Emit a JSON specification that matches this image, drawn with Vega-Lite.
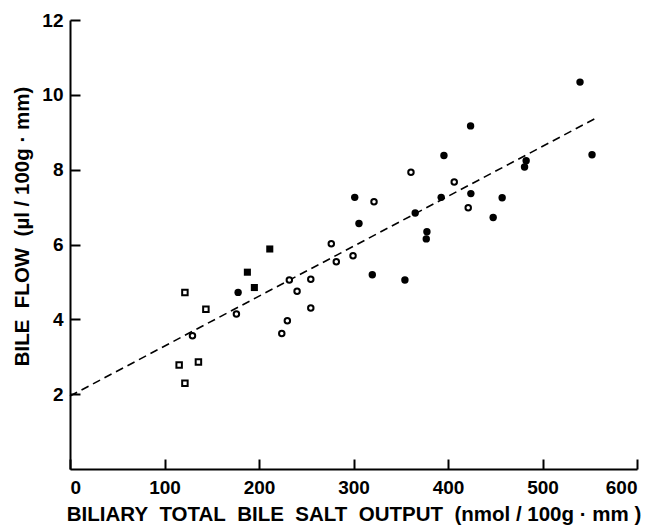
{
  "$schema": "https://vega.github.io/schema/vega-lite/v6.json",
  "width": 567,
  "height": 449,
  "autosize": {"type": "none"},
  "padding": {"left": 70, "top": 20, "right": 20, "bottom": 58},
  "background": "white",
  "config": {
    "view": {"stroke": null},
    "axis": {
      "grid": false,
      "domainColor": "black",
      "domainWidth": 2,
      "tickColor": "black",
      "tickWidth": 2,
      "tickSize": -10,
      "labelColor": "black",
      "titleColor": "black",
      "labelFont": "Liberation Sans",
      "titleFont": "Liberation Sans",
      "labelFontSize": 19,
      "titleFontSize": 20.5,
      "labelFontWeight": "bold",
      "titleFontWeight": "bold"
    }
  },
  "datasets": {
    "points": [
      {"x": 121.6, "y": 4.72, "group": "open square"},
      {"x": 143.8, "y": 4.27, "group": "open square"},
      {"x": 115.5, "y": 2.78, "group": "open square"},
      {"x": 135.9, "y": 2.86, "group": "open square"},
      {"x": 121.6, "y": 2.29, "group": "open square"},
      {"x": 187.7, "y": 5.26, "group": "filled square"},
      {"x": 195.1, "y": 4.85, "group": "filled square"},
      {"x": 211.4, "y": 5.88, "group": "filled square"},
      {"x": 129.6, "y": 3.56, "group": "open circle"},
      {"x": 176.1, "y": 4.14, "group": "open circle"},
      {"x": 224.1, "y": 3.62, "group": "open circle"},
      {"x": 230.0, "y": 3.96, "group": "open circle"},
      {"x": 232.1, "y": 5.05, "group": "open circle"},
      {"x": 240.3, "y": 4.75, "group": "open circle"},
      {"x": 254.8, "y": 5.07, "group": "open circle"},
      {"x": 254.8, "y": 4.30, "group": "open circle"},
      {"x": 276.5, "y": 6.02, "group": "open circle"},
      {"x": 281.8, "y": 5.54, "group": "open circle"},
      {"x": 299.5, "y": 5.70, "group": "open circle"},
      {"x": 321.7, "y": 7.14, "group": "open circle"},
      {"x": 360.8, "y": 7.93, "group": "open circle"},
      {"x": 406.6, "y": 7.67, "group": "open circle"},
      {"x": 421.4, "y": 6.98, "group": "open circle"},
      {"x": 177.9, "y": 4.72, "group": "filled circle"},
      {"x": 301.3, "y": 7.26, "group": "filled circle"},
      {"x": 305.8, "y": 6.56, "group": "filled circle"},
      {"x": 319.9, "y": 5.19, "group": "filled circle"},
      {"x": 354.4, "y": 5.05, "group": "filled circle"},
      {"x": 365.3, "y": 6.84, "group": "filled circle"},
      {"x": 377.7, "y": 6.34, "group": "filled circle"},
      {"x": 377.0, "y": 6.15, "group": "filled circle"},
      {"x": 395.7, "y": 8.38, "group": "filled circle"},
      {"x": 392.8, "y": 7.26, "group": "filled circle"},
      {"x": 424.2, "y": 7.36, "group": "filled circle"},
      {"x": 447.8, "y": 6.72, "group": "filled circle"},
      {"x": 457.3, "y": 7.25, "group": "filled circle"},
      {"x": 539.7, "y": 10.34, "group": "filled circle"},
      {"x": 423.9, "y": 9.17, "group": "filled circle"},
      {"x": 552.4, "y": 8.40, "group": "filled circle"},
      {"x": 482.7, "y": 8.24, "group": "filled circle"},
      {"x": 481.0, "y": 8.07, "group": "filled circle"}
    ],
    "fit": [
      {"x": 0, "y": 1.95},
      {"x": 556, "y": 9.37}
    ]
  },
  "encoding": {
    "x": {
      "field": "x",
      "type": "quantitative",
      "scale": {"domain": [0, 600], "nice": false},
      "axis": {
        "values": [0, 100, 200, 300, 400, 500, 600],
        "labelPadding": 19,
        "title": "BILIARY\u00a0 TOTAL\u00a0 BILE\u00a0 SALT\u00a0 OUTPUT\u00a0 (nmol / 100g · mm )",
        "titlePadding": 7
      }
    },
    "y": {
      "field": "y",
      "type": "quantitative",
      "scale": {"domain": [0, 12], "nice": false},
      "axis": {
        "values": [2, 4, 6, 8, 10, 12],
        "labelPadding": 17,
        "title": "BILE\u00a0 FLOW\u00a0 (µl / 100g · mm)",
        "titlePadding": 9,
        "titleY": 206
      }
    }
  },
  "layer": [
    {
      "data": {"name": "fit"},
      "mark": {"type": "line", "color": "black", "strokeWidth": 1.6, "strokeDash": [8, 5]}
    },
    {
      "data": {"name": "points"},
      "transform": [{"filter": "datum.group === 'filled circle'"}],
      "mark": {"type": "point", "shape": "circle", "filled": true, "color": "black", "size": 55, "opacity": 1}
    },
    {
      "data": {"name": "points"},
      "transform": [{"filter": "datum.group === 'open circle'"}],
      "mark": {"type": "point", "shape": "circle", "filled": false, "color": "black", "fill": "white", "strokeWidth": 2, "size": 30, "opacity": 1}
    },
    {
      "data": {"name": "points"},
      "transform": [{"filter": "datum.group === 'filled square'"}],
      "mark": {"type": "point", "shape": "square", "filled": true, "color": "black", "size": 50, "opacity": 1}
    },
    {
      "data": {"name": "points"},
      "transform": [{"filter": "datum.group === 'open square'"}],
      "mark": {"type": "point", "shape": "square", "filled": false, "color": "black", "fill": "white", "strokeWidth": 2, "size": 30, "opacity": 1}
    }
  ]
}
